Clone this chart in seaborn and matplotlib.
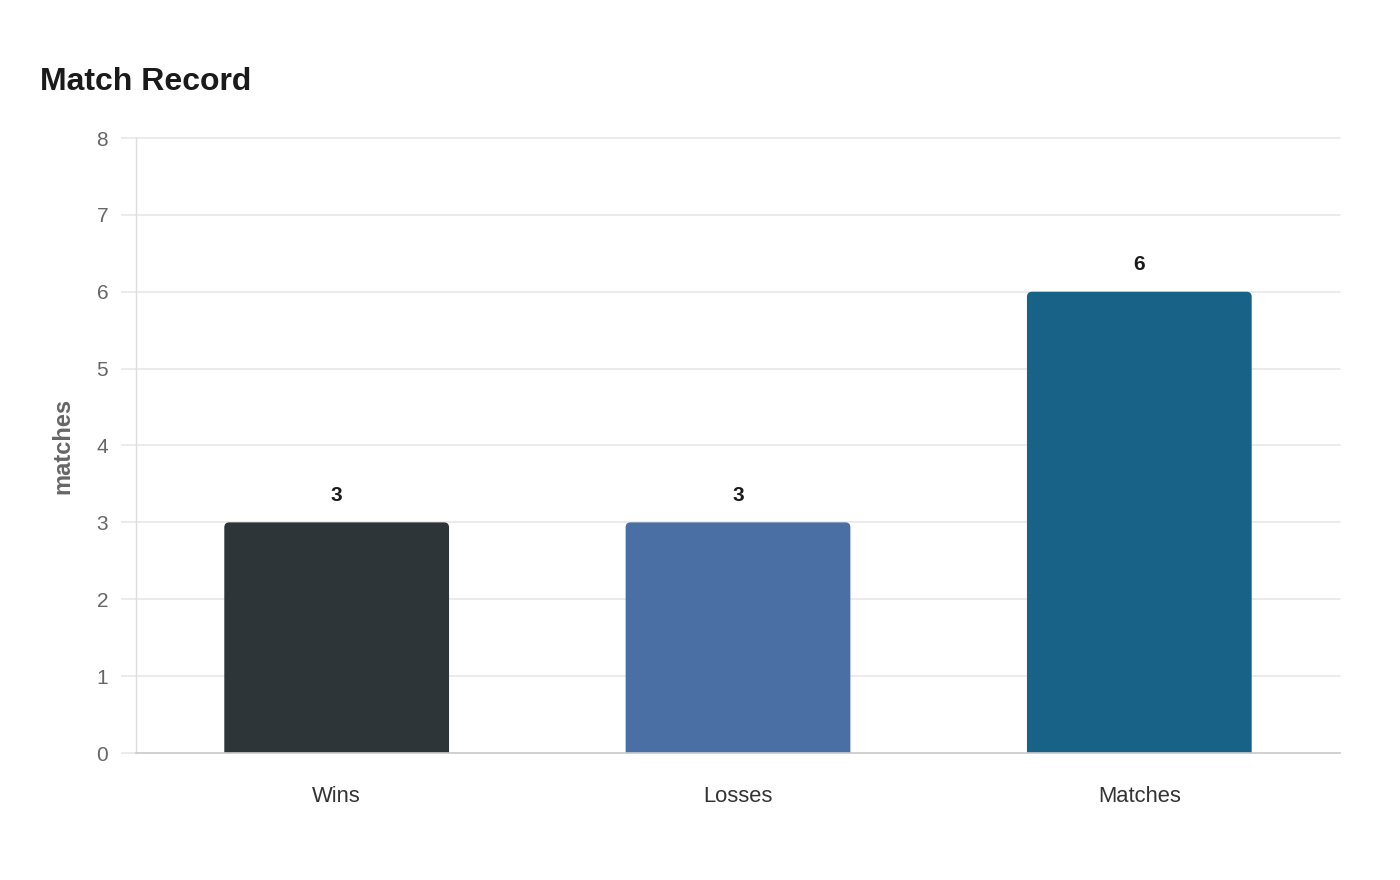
import matplotlib.pyplot as plt
import seaborn as sns
import pandas as pd
from matplotlib.patches import FancyBboxPatch

categories = ["Wins", "Losses", "Matches"]
values = [3, 3, 6]
bar_colors = ["#2e3538", "#4a6fa5", "#186287"]

sns.set_style("white")
plt.rcParams['font.family'] = ['Liberation Sans', 'DejaVu Sans']

df = pd.DataFrame({"category": categories, "matches": values})

fig = plt.figure(figsize=(14, 8.8), dpi=100)
ax = fig.add_axes([136 / 1400, 127 / 880, 1204 / 1400, 615 / 880])

sns.barplot(data=df, x="category", y="matches", hue="category",
            palette=bar_colors, width=0.56, legend=False, ax=ax, saturation=1)

ax.set_ylim(0, 8)
ax.set_xlim(-0.5, 2.5)

# rounded top corners
px_x = 1204 / 3
px_y = 615 / 8
r = 5 / px_x
for p in list(ax.patches):
    x, w = p.get_x(), p.get_width()
    h = p.get_height()
    fc = p.get_facecolor()
    p.remove()
    fb = FancyBboxPatch((x, -0.2), w, h + 0.2,
                        boxstyle=f"round,pad=0,rounding_size={r}",
                        mutation_aspect=px_x / px_y,
                        facecolor=fc, edgecolor="none", zorder=2)
    ax.add_patch(fb)
    ax.text(x + w / 2, h + 27 / px_y, f"{h:g}", ha="center", va="center",
            fontsize=15, fontweight="bold", color="#1a1a1a")

ax.set_yticks(range(0, 9))
ax.yaxis.grid(True, color="#e8e8e8", linewidth=1.2, zorder=0)
for gl in ax.get_ygridlines():
    gl.set_clip_on(False)
ax.set_axisbelow(True)
ax.tick_params(axis="y", left=True, length=11, width=1.2, color="#e8e8e8", pad=9,
               labelsize=15, labelcolor="#666666")
ax.tick_params(axis="x", length=0, pad=23.5, labelsize=15.8, labelcolor="#333333")

for s in ["top", "right"]:
    ax.spines[s].set_visible(False)
ax.spines["left"].set_color("#dddddd")
ax.spines["left"].set_linewidth(1)
ax.spines["bottom"].set_color("#cccccc")
ax.spines["bottom"].set_linewidth(1.2)

ax.set_xlabel("")
ax.set_ylabel("matches", fontsize=17, fontweight="bold", color="#666666", labelpad=16)

fig.text(40 / 1400, 1 - 82 / 880, "Match Record", fontsize=23, fontweight="bold",
         color="#1a1a1a", ha="left", va="center")

fig.savefig("out.png", dpi=100, facecolor="white")
